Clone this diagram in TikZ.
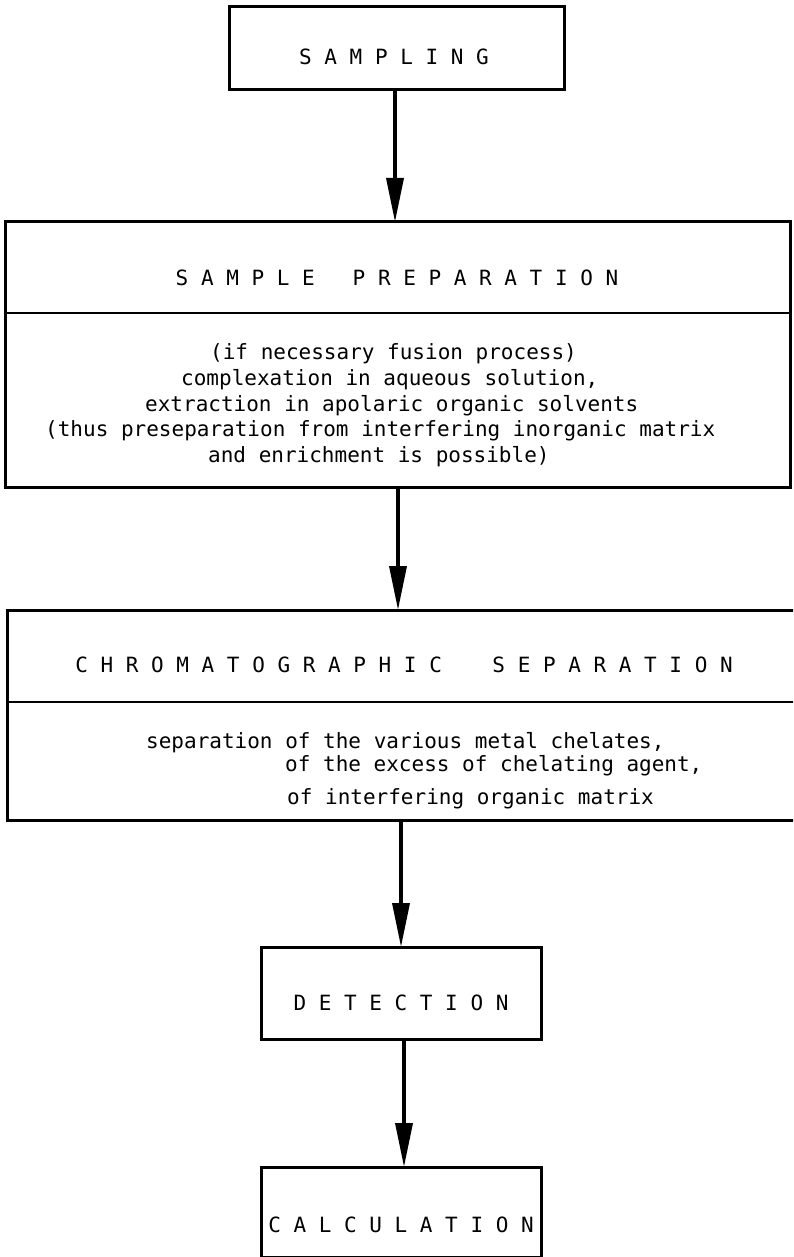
\documentclass[tikz,border=0pt]{standalone}
\usepackage{fontspec}
\setmonofont{DejaVu Sans Mono}
\usetikzlibrary{arrows.meta}
\newcommand{\mono}{\ttfamily\fontsize{21}{26}\selectfont}
\tikzset{
  frame/.style={draw, line width=3pt, inner sep=0pt, outer sep=0pt},
  ttl/.style={font=\mono, inner sep=0pt, anchor=base},
  txt/.style={font=\mono, inner sep=0pt, anchor=base west},
  flow/.style={line width=3.5pt, -{Triangle[length=44pt,width=17pt]}},
  rule/.style={line width=2pt}
}
\begin{document}
\begin{tikzpicture}[x=1pt,y=-1pt]
\useasboundingbox (0,0) rectangle (793,1257);
\clip (0,0) rectangle (793,1257);
% boxes
\node[frame, minimum width=335pt, minimum height=83pt] (samp) at (397,48.5) {};
\node[frame, minimum width=785pt, minimum height=265pt] (prep) at (397.5,354.5) {};
\node[frame, minimum width=800pt, minimum height=210pt] (chrom) at (407,715) {};
\node[frame, minimum width=280pt, minimum height=92pt] (det) at (401,993) {};
\node[frame, minimum width=280pt, minimum height=90pt] (calc) at (401,1212) {};
% dividers
\coordinate (pd) at (0,313);
\coordinate (cd) at (0,702);
\draw[rule] (prep.west |- pd) -- (prep.east |- pd);
\draw[rule] (chrom.west |- cd) -- (chrom.east |- cd);
% titles
\node[ttl] (tsamp) at (394,65) {S~A~M~P~L~I~N~G};
\node[ttl] (tprep) at (397,285) {S~A~M~P~L~E~~~P~R~E~P~A~R~A~T~I~O~N};
\node[ttl] (tchrom) at (404,672) {C~H~R~O~M~A~T~O~G~R~A~P~H~I~C~~~~S~E~P~A~R~A~T~I~O~N};
\node[ttl] (tdet) at (401,1010) {D~E~T~E~C~T~I~O~N};
\node[ttl] (tcalc) at (401,1232) {C~A~L~C~U~L~A~T~I~O~N};
% body of sample preparation
\node[txt] (p1) at (210,359) {(if necessary fusion process)};
\node[txt] (p2) at (181,385) {complexation in aqueous solution,};
\node[txt] (p3) at (145,411) {extraction in apolaric organic solvents};
\node[txt] (p4) at (45,436) {(thus preseparation from interfering inorganic matrix};
\node[txt] (p5) at (208,462) {and enrichment is possible)};
% body of chromatographic separation
\node[txt] (c1) at (146,748) {separation of the various metal chelates,};
\node[txt] (c2) at (285,771) {of the excess of chelating agent,};
\node[txt] (c3) at (287,804) {of interfering organic matrix};
% arrows
\draw[flow] (samp.south -| 395,0) -- (prep.north -| 395,0);
\draw[flow] (prep.south -| 398,0) -- (chrom.north -| 398,0);
\draw[flow] (chrom.south -| 401,0) -- (det.north -| 401,0);
\draw[flow] (det.south -| 404,0) -- (calc.north -| 404,0);
\end{tikzpicture}
\end{document}
